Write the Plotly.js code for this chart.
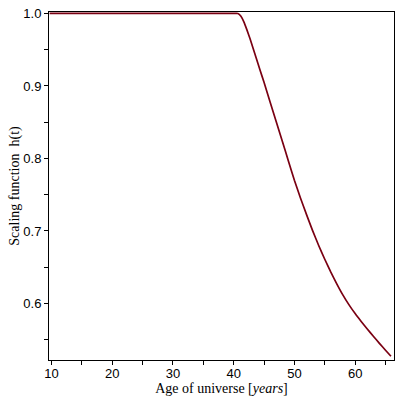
<!DOCTYPE html>
<html><head><meta charset="utf-8">
<script src="https://cdn.plot.ly/plotly-3.0.1.min.js"></script>
<style>html,body{margin:0;padding:0;background:#fff}#c{width:400px;height:400px}</style>
</head><body><div id="c"></div>
<script>
const ageYears = [9.7, 20, 30, 40, 40.7, 41.2, 41.7, 42.2, 42.7, 43.2, 43.7, 44.3, 45, 46, 47, 48, 49, 50, 51, 52, 53, 54, 55, 56, 57, 58, 59, 60, 61, 62, 63, 64, 65, 65.9];
const scaling  = [1.0, 1.0, 1.0, 1.0, 1.0, 0.996, 0.988, 0.977, 0.965, 0.952, 0.939, 0.923, 0.905, 0.878, 0.851, 0.824, 0.797, 0.770, 0.7455, 0.7225, 0.7005, 0.680, 0.661, 0.6432, 0.6268, 0.6115, 0.5980, 0.5860, 0.5752, 0.5648, 0.5547, 0.545, 0.5355, 0.5272];

const tickFont = {family: 'Liberation Sans, Arial, sans-serif', size: 13, color: '#000'};
const titleFont = {family: 'Liberation Serif, Times New Roman, serif', size: 14, color: '#000'};

Plotly.newPlot('c', [{
  x: ageYears, y: scaling, type: 'scatter', mode: 'lines',
  line: {color: '#7a0012', width: 1.7, shape: 'spline', smoothing: 0.5},
  hoverinfo: 'skip'
}], {
  width: 400, height: 400,
  margin: {l: 49, r: 6, t: 12, b: 40},
  paper_bgcolor: '#fff', plot_bgcolor: '#fff',
  showlegend: false,
  xaxis: {
    range: [9.6, 66.4], showgrid: false, zeroline: false,
    showline: true, mirror: true, linecolor: '#000', linewidth: 1,
    ticks: 'outside', ticklen: 4, tickcolor: '#000', dtick: 10, tick0: 0,
    ticklabelstandoff: -3,
    minor: {dtick: 5, tick0: 0, ticks: 'outside', ticklen: 4, tickcolor: '#000'},
    tickfont: tickFont,
    title: {text: 'Age of universe [<i>years</i>]', font: titleFont, standoff: 0}
  },
  yaxis: {
    range: [0.522, 1.002], showgrid: false, zeroline: false,
    showline: true, mirror: true, linecolor: '#000', linewidth: 1,
    ticks: 'outside', ticklen: 4, tickcolor: '#000', dtick: 0.1, tick0: 0,
    tickformat: '.1f',
    minor: {dtick: 0.05, tick0: 0, ticks: 'outside', ticklen: 4, tickcolor: '#000'},
    tickfont: tickFont,
    title: {text: 'Scaling function  h(t)', font: titleFont, standoff: 0}
  }
}, {staticPlot: true, displayModeBar: false});
</script></body></html>
